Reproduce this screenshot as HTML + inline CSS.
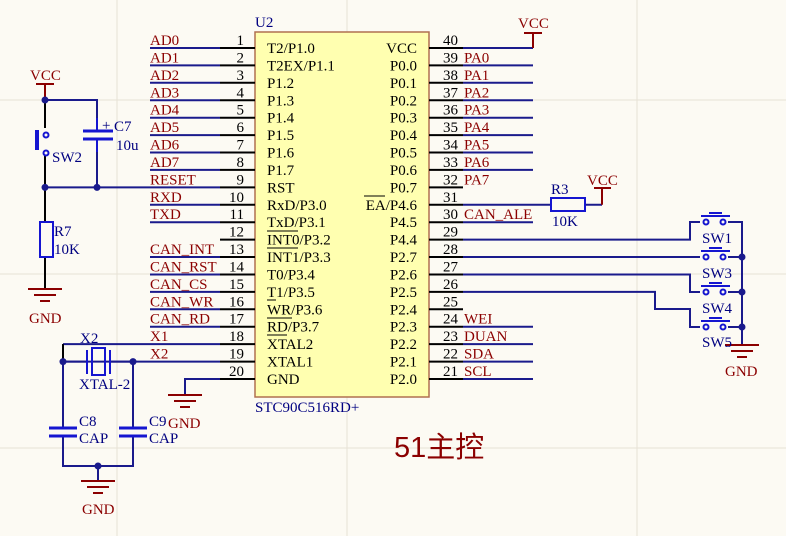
<!DOCTYPE html>
<html><head><meta charset="utf-8"><style>
html,body{margin:0;padding:0;background:#fcfaf3}
svg{display:block}
text{font-family:"Liberation Serif",serif;font-size:15px}
.n{fill:#8b0000}.b{fill:#000}.c{fill:#000080}
.w{stroke:#1a1a8c;stroke-width:2;fill:none}
.p{stroke:#000;stroke-width:2;fill:none}
.r{stroke:#8b0000;stroke-width:2;fill:none}
.g{stroke:#e6e2d6;stroke-width:1}
</style></head><body>
<svg width="786" height="536" viewBox="0 0 786 536">
<g class="g">
<line x1="117" y1="0" x2="117" y2="536"/><line x1="347" y1="0" x2="347" y2="536"/><line x1="637" y1="0" x2="637" y2="536"/>
<line x1="0" y1="100" x2="786" y2="100"/><line x1="0" y1="274" x2="786" y2="274"/><line x1="0" y1="448" x2="786" y2="448"/>
</g>
<rect x="255" y="32" width="174" height="365" fill="#ffffb0" stroke="#b07050" stroke-width="1.5"/>
<text x="255" y="27" class="c">U2</text>
<text x="255" y="412" class="c">STC90C516RD+</text>
<g class="p">
<path d="M220 48H255M220 65.4H255M220 82.8H255M220 100.3H255M220 117.7H255M220 135.1H255M220 152.5H255M220 169.9H255M220 187.4H255M220 204.8H255M220 222.2H255M220 239.6H255M220 257H255M220 274.5H255M220 291.9H255M220 309.3H255M220 326.7H255M220 344.1H255M220 361.6H255M220 379H255"/>
<path d="M429 48H463M429 65.4H463M429 82.8H463M429 100.3H463M429 117.7H463M429 135.1H463M429 152.5H463M429 169.9H463M429 187.4H463M429 204.8H463M429 222.2H463M429 239.6H463M429 257H463M429 274.5H463M429 291.9H463M429 309.3H463M429 326.7H463M429 344.1H463M429 361.6H463M429 379H463"/>
</g>
<g class="w">
<path d="M150 48H220M150 65.4H220M150 82.8H220M150 100.3H220M150 117.7H220M150 135.1H220M150 152.5H220M150 169.9H220M150 204.8H220M150 222.2H220M150 257H220M150 274.5H220M150 291.9H220M150 309.3H220M150 326.7H220"/>
<path d="M45 187.4H220"/>
<path d="M63 344.1H220M63 361.6H220M63 344.1V428M133 361.6V428M63 436V466H133V436"/>
<path d="M63 361.6H87M110 361.6H133"/>
<path d="M220 379H185V395"/>
<path d="M45 100H97V128M97 142V187.4"/>
<path d="M463 48H533M463 65.4H533M463 82.8H533M463 100.3H533M463 117.7H533M463 135.1H533M463 152.5H533M463 169.9H533M463 222.2H533M463 326.7H533M463 344.1H533M463 361.6H533M463 379H533"/>
<path d="M463 204.8H551M585 204.8H602"/>
<path d="M463 239.6H690V222H700M463 257H700M463 274.5H690V292H700M463 291.9H655V309H690V327H700"/>
<path d="M728 222H742V345M728 257H742M728 292H742M728 327H742"/>
<path d="M98 466V480"/>
</g>
<g class="p">
<path d="M45 100V128M45 155V187.4M45 187.4V222M45 257V288"/>
<path d="M63 344.1V361.6"/>
</g>
<g class="r">
<path d="M45 84V100M36 84H54"/>
<path d="M533 48V33M524 33H542"/>
<path d="M602 204.8V188M594 188H611"/>
</g>
<g class="r">
<path d="M28 289H62M34 295H56M40 301H50"/>
<path d="M168 395H202M174 401H196M180 407H190"/>
<path d="M81 481H115M87 487H109M93 493H103"/>
<path d="M725 345H759M731 351H753M737 357H747"/>
</g>
<text x="29" y="323" class="n">GND</text>
<text x="168" y="428" class="n">GND</text>
<text x="82" y="514" class="n">GND</text>
<text x="725" y="376" class="n">GND</text>
<text x="30" y="80" class="n">VCC</text>
<text x="518" y="28" class="n">VCC</text>
<text x="587" y="185" class="n">VCC</text>
<g fill="#1a1a8c">
<circle cx="45" cy="100" r="3.5"/><circle cx="45" cy="187.4" r="3.5"/><circle cx="97" cy="187.4" r="3.5"/>
<circle cx="63" cy="361.6" r="3.5"/><circle cx="133" cy="361.6" r="3.5"/><circle cx="98" cy="466" r="3.5"/>
<circle cx="742" cy="257" r="3.5"/><circle cx="742" cy="292" r="3.5"/><circle cx="742" cy="327" r="3.5"/>
</g>
<g stroke="#1515d0" stroke-width="3"><path d="M83 131H113M83 139H113"/><path d="M97 118V131M97 139V152" stroke-width="2"/></g>
<text x="102" y="130" class="c">+</text><text x="114" y="131" class="c">C7</text><text x="116" y="150" class="c">10u</text>
<g stroke="#1515d0" stroke-width="2" fill="none"><path d="M38 130V150M36 130V150"/><circle cx="46" cy="135" r="2.5"/><circle cx="46" cy="153" r="2.5"/></g>
<text x="52" y="162" class="c">SW2</text>
<rect x="40" y="222" width="13" height="35" fill="none" stroke="#1515d0" stroke-width="2"/>
<text x="54" y="236" class="c">R7</text><text x="54" y="254" class="c">10K</text>
<rect x="551" y="198" width="34" height="13" fill="none" stroke="#1515d0" stroke-width="2"/>
<text x="551" y="194" class="c">R3</text><text x="552" y="226" class="c">10K</text>
<g stroke="#1515d0" stroke-width="2" fill="none"><path d="M87 350V374M110 350V374"/><rect x="92" y="348" width="13" height="27"/></g>
<text x="80" y="343" class="c">X2</text><text x="79" y="389" class="c">XTAL-2</text>
<g stroke="#1515d0" stroke-width="3"><path d="M49 428H77M49 436H77M119 428H147M119 436H147"/></g>
<text x="79" y="426" class="c">C8</text><text x="79" y="443" class="c">CAP</text>
<text x="149" y="426" class="c">C9</text><text x="149" y="443" class="c">CAP</text>
<g stroke="#1515d0" stroke-width="2" fill="none">
<circle cx="706" cy="222" r="2.5"/><circle cx="723" cy="222" r="2.5"/><path d="M701 216H730M709 213H722"/>
<circle cx="706" cy="257" r="2.5"/><circle cx="723" cy="257" r="2.5"/><path d="M701 251H730M709 248H722"/>
<circle cx="706" cy="292" r="2.5"/><circle cx="723" cy="292" r="2.5"/><path d="M701 286H730M709 283H722"/>
<circle cx="706" cy="327" r="2.5"/><circle cx="723" cy="327" r="2.5"/><path d="M701 321H730M709 318H722"/>
</g>
<text x="702" y="243" class="c">SW1</text><text x="702" y="278" class="c">SW3</text><text x="702" y="313" class="c">SW4</text><text x="702" y="347" class="c">SW5</text>
<g class="n">
<text x="150" y="45">AD0</text><text x="150" y="62.4">AD1</text><text x="150" y="79.8">AD2</text><text x="150" y="97.3">AD3</text><text x="150" y="114.7">AD4</text><text x="150" y="132.1">AD5</text><text x="150" y="149.5">AD6</text><text x="150" y="166.9">AD7</text><text x="150" y="184.4">RESET</text><text x="150" y="201.8">RXD</text><text x="150" y="219.2">TXD</text><text x="150" y="254">CAN_INT</text><text x="150" y="271.5">CAN_RST</text><text x="150" y="288.9">CAN_CS</text><text x="150" y="306.3">CAN_WR</text><text x="150" y="323.7">CAN_RD</text><text x="150" y="341.1">X1</text><text x="150" y="358.6">X2</text>
</g>
<g class="b" text-anchor="end">
<text x="244" y="45">1</text><text x="244" y="62.4">2</text><text x="244" y="79.8">3</text><text x="244" y="97.3">4</text><text x="244" y="114.7">5</text><text x="244" y="132.1">6</text><text x="244" y="149.5">7</text><text x="244" y="166.9">8</text><text x="244" y="184.4">9</text><text x="244" y="201.8">10</text><text x="244" y="219.2">11</text><text x="244" y="236.6">12</text><text x="244" y="254">13</text><text x="244" y="271.5">14</text><text x="244" y="288.9">15</text><text x="244" y="306.3">16</text><text x="244" y="323.7">17</text><text x="244" y="341.1">18</text><text x="244" y="358.6">19</text><text x="244" y="376">20</text>
</g>
<g class="b">
<text x="443" y="45">40</text><text x="443" y="62.4">39</text><text x="443" y="79.8">38</text><text x="443" y="97.3">37</text><text x="443" y="114.7">36</text><text x="443" y="132.1">35</text><text x="443" y="149.5">34</text><text x="443" y="166.9">33</text><text x="443" y="184.4">32</text><text x="443" y="201.8">31</text><text x="443" y="219.2">30</text><text x="443" y="236.6">29</text><text x="443" y="254">28</text><text x="443" y="271.5">27</text><text x="443" y="288.9">26</text><text x="443" y="306.3">25</text><text x="443" y="323.7">24</text><text x="443" y="341.1">23</text><text x="443" y="358.6">22</text><text x="443" y="376">21</text>
</g>
<g class="n">
<text x="464" y="62.4">PA0</text><text x="464" y="79.8">PA1</text><text x="464" y="97.3">PA2</text><text x="464" y="114.7">PA3</text><text x="464" y="132.1">PA4</text><text x="464" y="149.5">PA5</text><text x="464" y="166.9">PA6</text><text x="464" y="184.4">PA7</text><text x="464" y="219.2">CAN_ALE</text><text x="464" y="323.7">WEI</text><text x="464" y="341.1">DUAN</text><text x="464" y="358.6">SDA</text><text x="464" y="376">SCL</text>
</g>
<g class="b">
<text x="267" y="53">T2/P1.0</text><text x="267" y="70.4">T2EX/P1.1</text><text x="267" y="87.8">P1.2</text><text x="267" y="105.3">P1.3</text><text x="267" y="122.7">P1.4</text><text x="267" y="140.1">P1.5</text><text x="267" y="157.5">P1.6</text><text x="267" y="174.9">P1.7</text><text x="267" y="192.4">RST</text><text x="267" y="209.8">RxD/P3.0</text><text x="267" y="227.2">TxD/P3.1</text><text x="267" y="244.6">INT0/P3.2</text><text x="267" y="262">INT1/P3.3</text><text x="267" y="279.5">T0/P3.4</text><text x="267" y="296.9">T1/P3.5</text><text x="267" y="314.3">WR/P3.6</text><text x="267" y="331.7">RD/P3.7</text><text x="267" y="349.1">XTAL2</text><text x="267" y="366.6">XTAL1</text><text x="267" y="384">GND</text>
</g>
<g class="b" text-anchor="end">
<text x="417" y="53">VCC</text><text x="417" y="70.4">P0.0</text><text x="417" y="87.8">P0.1</text><text x="417" y="105.3">P0.2</text><text x="417" y="122.7">P0.3</text><text x="417" y="140.1">P0.4</text><text x="417" y="157.5">P0.5</text><text x="417" y="174.9">P0.6</text><text x="417" y="192.4">P0.7</text><text x="417" y="209.8">EA/P4.6</text><text x="417" y="227.2">P4.5</text><text x="417" y="244.6">P4.4</text><text x="417" y="262">P2.7</text><text x="417" y="279.5">P2.6</text><text x="417" y="296.9">P2.5</text><text x="417" y="314.3">P2.4</text><text x="417" y="331.7">P2.3</text><text x="417" y="349.1">P2.2</text><text x="417" y="366.6">P2.1</text><text x="417" y="384">P2.0</text>
</g>
<g stroke="#000" stroke-width="1">
<path d="M364 196H385M267 231H298M267 248H298M267 300H276M267 318H292M267 335H287"/>
</g>
<text x="394" y="457" style="font-family:'Liberation Sans','Noto Sans CJK SC',sans-serif;font-size:29px;fill:#8b0000">51主控</text>
</svg>
</body></html>
